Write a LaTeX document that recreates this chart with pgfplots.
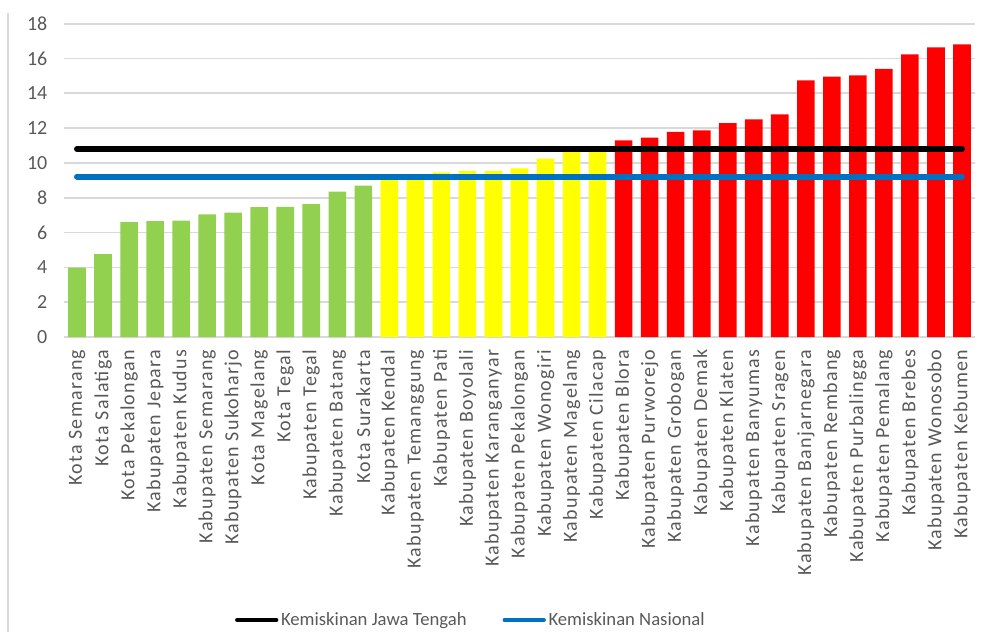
\documentclass[border=0pt]{standalone}
\usepackage{fontspec}
\setmainfont{Carlito}
\newfontfamily\xlabfont[LetterSpace=6.5]{Carlito}
\usepackage{pgfplots}
\pgfplotsset{compat=1.18}
\definecolor{cgreen}{HTML}{92D050}
\definecolor{cyellow}{HTML}{FFFF00}
\definecolor{cred}{HTML}{FF0000}
\definecolor{cblue}{HTML}{0070C0}
\definecolor{cgrid}{HTML}{D9D9D9}
\definecolor{ctext}{HTML}{595959}
\begin{document}
\begin{tikzpicture}
\useasboundingbox (0,0) rectangle (741pt,474pt);
\draw[color=cgrid, line width=0.9pt] (6pt,0) -- (6pt,464pt);
\begin{axis}[
  at={(48pt,221.25pt)}, anchor=south west,
  scale only axis, width=683.25pt, height=235pt,
  xmin=0.5, xmax=35.5, ymin=0, ymax=18,
  ytick={0,2,...,18},
  xtick={1,...,35},
  xticklabels={Kota Semarang,Kota Salatiga,Kota Pekalongan,Kabupaten Jepara,Kabupaten Kudus,Kabupaten Semarang,Kabupaten Sukoharjo,Kota Magelang,Kota Tegal,Kabupaten Tegal,Kabupaten Batang,Kota Surakarta,Kabupaten Kendal,Kabupaten Temanggung,Kabupaten Pati,Kabupaten Boyolali,Kabupaten Karanganyar,Kabupaten Pekalongan,Kabupaten Wonogiri,Kabupaten Magelang,Kabupaten Cilacap,Kabupaten Blora,Kabupaten Purworejo,Kabupaten Grobogan,Kabupaten Demak,Kabupaten Klaten,Kabupaten Banyumas,Kabupaten Sragen,Kabupaten Banjarnegara,Kabupaten Rembang,Kabupaten Purbalingga,Kabupaten Pemalang,Kabupaten Brebes,Kabupaten Wonosobo,Kabupaten Kebumen},
  axis line style={draw=none},
  major tick length=0pt,
  ymajorgrids=true,
  major grid style={cgrid, line width=1.3pt},
  /pgf/number format/assume math mode=true,
  yticklabel style={font=\fontsize{15}{15}\selectfont, text=ctext},
  yticklabel shift={9pt},
  xticklabel style={rotate=90, anchor=east, font=\xlabfont\fontsize{15}{15}\selectfont, text=ctext},
  xticklabel shift={6pt},
  legend style={at={(0.447,-0.903)}, anchor=center, legend columns=2, draw=none, fill=none,
    font=\fontsize{14}{14}\selectfont, text=ctext,
    /tikz/every even column/.append style={column sep=25pt},
    inner sep=0pt},
  legend image code/.code={\draw[#1, line width=3pt, line cap=round] (1.5pt,0pt) -- (31pt,0pt);},
]
\addplot[ybar, bar width=13.2pt, bar shift=0pt, fill=cgreen, draw=none, forget plot] coordinates {
(1,3.98) (2,4.76) (3,6.60) (4,6.66) (5,6.68) (6,7.04) (7,7.14) (8,7.46) (9,7.47) (10,7.64) (11,8.35) (12,8.70)};
\addplot[ybar, bar width=13.2pt, bar shift=0pt, fill=cyellow, draw=none, forget plot] coordinates {
(13,9.15) (14,9.20) (15,9.46) (16,9.53) (17,9.53) (18,9.69) (19,10.25) (20,10.67) (21,10.73)};
\addplot[ybar, bar width=13.2pt, bar shift=0pt, fill=cred, draw=none, forget plot] coordinates {
(22,11.30) (23,11.45) (24,11.78) (25,11.87) (26,12.29) (27,12.50) (28,12.79) (29,14.74) (30,14.96) (31,15.03) (32,15.40) (33,16.24) (34,16.64) (35,16.81)};
\addplot[black, line width=4.5pt, line cap=round] coordinates {(1,10.8) (35,10.8)};
\addlegendentry{Kemiskinan Jawa Tengah}
\addplot[cblue, line width=4.5pt, line cap=round] coordinates {(1,9.22) (35,9.22)};
\addlegendentry{Kemiskinan Nasional}
\end{axis}
\end{tikzpicture}
\end{document}
